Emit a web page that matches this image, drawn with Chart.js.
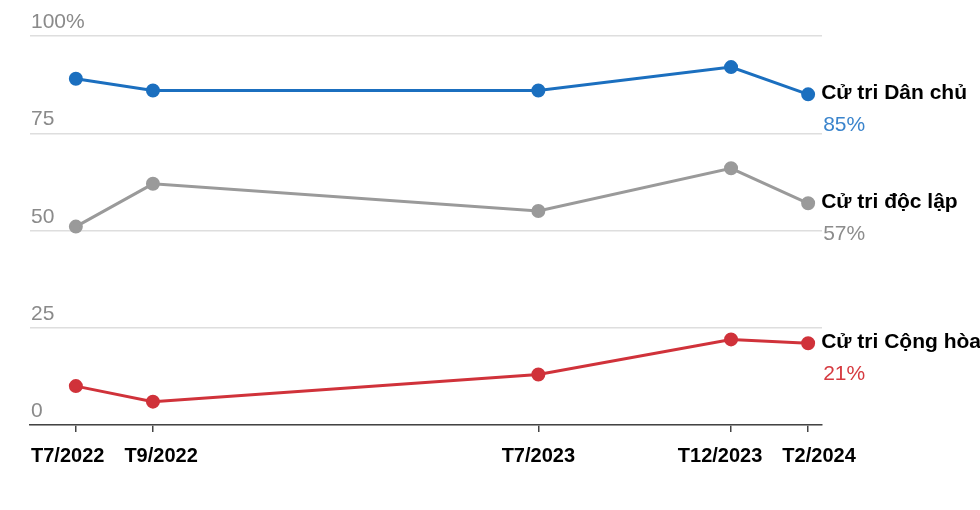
<!DOCTYPE html>
<html lang="vi">
<head>
<meta charset="UTF-8">
<title>Cử tri</title>
<script src="https://cdn.jsdelivr.net/npm/chart.js"></script>
<style>
  body { margin: 0; background: #fff; }
  canvas { display: block; }
</style>
</head>
<body>
<canvas id="c" width="980" height="510"></canvas>
<script>
// months counted from T7/2022
const months = [0, 2, 12, 17, 19];
const monthLabels = ['T7/2022', 'T9/2022', 'T7/2023', 'T12/2023', 'T2/2024'];
const demValues = [89, 86, 86, 92, 85];
const indValues = [51, 62, 55, 66, 57];
const repValues = [10, 6, 13, 22, 21];
const yTicks = [0, 25, 50, 75, 100];
const seriesNames = ['Cử tri Dân chủ', 'Cử tri độc lập', 'Cử tri Cộng hòa'];
const colors = ['#1b6fbf', '#9a9a9a', '#d0323a'];
const pctColors = ['#3a84cc', '#8c8c8c', '#d63a40'];

const FONT = '"Liberation Sans", Arial, sans-serif';
const toPts = vals => vals.map((v, i) => ({ x: months[i], y: v }));

const endLabels = {
  id: 'endLabels',
  afterDatasetsDraw(chart) {
    const { ctx } = chart;
    ctx.save();
    chart.data.datasets.forEach((ds, i) => {
      const meta = chart.getDatasetMeta(i);
      const last = meta.data[meta.data.length - 1];
      const val = ds.data[ds.data.length - 1].y;
      ctx.textAlign = 'left';
      ctx.textBaseline = 'middle';
      ctx.fillStyle = '#000';
      ctx.font = 'bold 21px ' + FONT;
      ctx.fillText(ds.label, last.x + 13, last.y - 1);
      ctx.fillStyle = pctColors[i];
      ctx.font = '21px ' + FONT;
      ctx.fillText(val + '%', last.x + 15, last.y + 31);
    });
    ctx.restore();
  }
};

// y tick labels sit above their gridline; x labels get pushed apart when crowded
const axisLabels = {
  id: 'axisLabels',
  afterDraw(chart) {
    const { ctx, scales, chartArea } = chart;
    ctx.save();
    ctx.font = '21px ' + FONT;
    ctx.fillStyle = '#8a8a8a';
    ctx.textAlign = 'left';
    ctx.textBaseline = 'alphabetic';
    yTicks.forEach(t => {
      const y = scales.y.getPixelForValue(t);
      ctx.fillText(t === 100 ? '100%' : String(t), chartArea.left + 1, y - 8);
    });

    ctx.font = 'bold 20px ' + FONT;
    ctx.fillStyle = '#000';
    ctx.textAlign = 'center';
    ctx.textBaseline = 'middle';
    const items = months.map((m, i) => {
      const w = ctx.measureText(monthLabels[i]).width;
      return { c: scales.x.getPixelForValue(m), w };
    });
    const gap = 20;
    for (let k = 0; k < 3; k++) {
      for (let i = 0; i < items.length - 1; i++) {
        const a = items[i], b = items[i + 1];
        const space = (b.c - b.w / 2) - (a.c + a.w / 2);
        if (space < gap) {
          const d = (gap - space) / 2;
          a.c -= d; b.c += d;
        }
      }
    }
    items.forEach((it, i) => ctx.fillText(monthLabels[i], it.c, chartArea.bottom + 31));
    ctx.restore();
  }
};

const ds = [demValues, indValues, repValues].map((vals, i) => ({
  label: seriesNames[i],
  data: toPts(vals),
  borderColor: colors[i],
  backgroundColor: colors[i],
  borderWidth: 3,
  pointRadius: 5.5,
  pointHoverRadius: 5.5,
  tension: 0
}));

new Chart(document.getElementById('c'), {
  type: 'line',
  data: { datasets: ds },
  options: {
    responsive: false,
    animation: false,
    layout: { padding: { left: 30, right: 158, top: 36, bottom: 0 } },
    plugins: { legend: { display: false }, tooltip: { enabled: false } },
    scales: {
      x: {
        type: 'linear',
        min: -1.19,
        max: 19.36,
        afterBuildTicks: s => { s.ticks = months.map(v => ({ value: v })); },
        afterFit: s => { s.height = 85; },
        grid: { drawOnChartArea: false, tickLength: 7, color: '#444', lineWidth: 1.5 },
        border: { display: true, color: '#444', width: 1.5 },
        ticks: { display: false }
      },
      y: {
        min: 0,
        max: 100,
        afterBuildTicks: s => { s.ticks = yTicks.map(v => ({ value: v })); },
        afterFit: s => { s.width = 0; },
        grid: { color: '#dedede', lineWidth: 1.5, drawTicks: false },
        border: { display: false },
        ticks: { display: false }
      }
    }
  },
  plugins: [endLabels, axisLabels]
});
</script>
</body>
</html>
